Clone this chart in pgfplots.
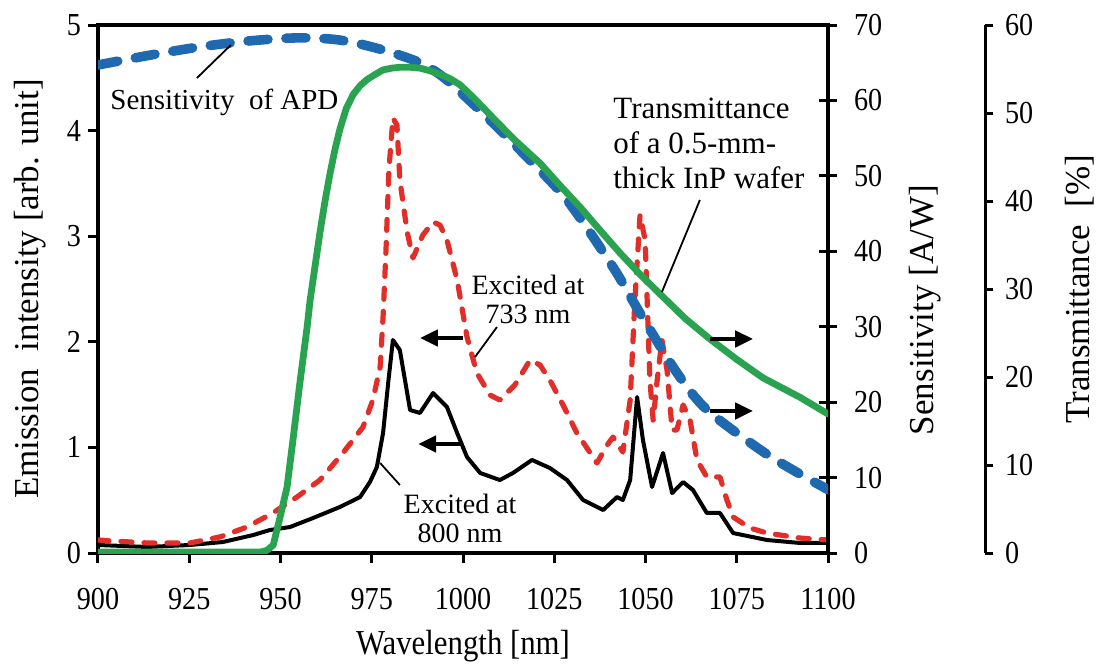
\documentclass[border=0pt]{standalone}
\usepackage{fontspec}
\setmainfont{Liberation Serif}
\newfontfamily\narrow{Liberation Serif}[FakeStretch=0.88]
\usepackage{pgfplots}
\pgfplotsset{compat=1.18}
\usetikzlibrary{arrows.meta}
\definecolor{apdblue}{RGB}{31,105,176}
\definecolor{exred}{RGB}{226,46,40}
\definecolor{trgreen}{RGB}{42,163,80}
\pgfplotsset{
  base/.style={width=365pt,height=264pt,scale only axis,xmin=900,xmax=1100,
    /pgf/number format/assume math mode=true,
    /pgf/number format/1000 sep={},
    tick label style={font=\narrow\fontsize{16}{16}\selectfont},
    label style={font=\fontsize{17.5}{17.5}\selectfont},
    major tick length=5pt,
    every tick/.style={black,line width=1.5pt},
    axis line style={line width=1.9pt}},
}
\begin{document}
\begin{tikzpicture}
% ---------- main axis: emission ----------
\begin{axis}[base, ymin=0, ymax=5,
  xtick={900,925,...,1100}, ytick={0,1,...,5},
  xtick pos=bottom, ytick pos=left, tick align=outside,
  xlabel={\narrow Wavelength [nm]}, ylabel={Emission\ \ intensity [arb. unit]},
  xlabel style={at={(axis description cs:0.5,-0.176)},anchor=center},
  ylabel style={at={(axis description cs:-0.093,0.5)},anchor=center},
  xticklabel style={yshift=-9pt}]
\addplot[black, line width=2pt, line join=round] coordinates {
(900,0.076)(913.4,0.057)(925.2,0.076)(934.2,0.104)(942.5,0.170)(947.1,0.218)
(952.6,0.246)(958.9,0.331)(966.3,0.436)(971.8,0.530)(974.5,0.672)(976.4,0.814)
(978.1,1.136)(979.5,1.610)(980.8,2.017)(982.7,1.922)(985.5,1.354)(988.2,1.326)
(991.8,1.515)(995.6,1.383)(998.4,1.136)(1001.1,0.909)(1004.7,0.758)(1010.1,0.691)
(1013.7,0.758)(1018.9,0.881)(1023.8,0.805)(1028.5,0.691)(1032.9,0.502)(1038.4,0.407)
(1042.2,0.530)(1043.8,0.502)(1045.8,0.691)(1047.7,1.477)(1049.3,1.070)(1051.8,0.625)
(1054.8,0.947)(1057.3,0.568)(1060.3,0.672)(1063.0,0.597)(1066.8,0.379)(1070.4,0.379)
(1074.0,0.189)(1083.3,0.123)(1092.3,0.095)(1100,0.095)};
\addplot[exred, line width=2.6pt, dash pattern=on 5.5pt off 6pt, line cap=round, line join=round] coordinates {
(900,0.123)(913.4,0.095)(925.2,0.095)(933.4,0.152)(940.8,0.246)(947.9,0.379)
(954.5,0.530)(960.8,0.691)(967.1,0.947)(972.6,1.193)(975.3,1.449)(977.3,1.761)
(978.1,2.235)(978.9,2.869)(979.7,3.627)(980.8,4.119)(981.9,4.053)(982.7,3.532)
(984.7,3.040)(986.3,2.794)(989.0,3.011)(991.8,3.134)(993.7,3.106)(995.6,2.964)
(998.4,2.585)(1001.1,2.045)(1003.8,1.705)(1007.4,1.496)(1010.1,1.449)(1014.2,1.591)
(1018.4,1.828)(1021.1,1.780)(1023.8,1.638)(1027.4,1.402)(1031.2,1.136)(1036.7,0.852)
(1039.5,1.023)(1041.1,1.098)(1043.8,0.956)(1045.8,1.449)(1047.1,2.396)(1048.5,3.201)
(1049.9,2.964)(1051.2,1.638)(1052.1,1.259)(1053.2,1.638)(1054.5,2.017)(1055.9,1.733)
(1057.3,1.165)(1058.6,1.165)(1060.3,1.402)(1062.2,1.259)(1064.1,0.881)(1066.8,0.720)
(1070.4,0.720)(1072.3,0.502)(1074.0,0.341)(1078.6,0.237)(1083.3,0.189)(1092.3,0.142)
(1100,0.123)};
\end{axis}
% ---------- sensitivity axis ----------
\begin{axis}[base, ymin=0, ymax=70, hide x axis, axis y line*=right,
  ytick={0,10,...,70}, tick align=center, major tick length=9pt,
  yticklabel style={xshift=5pt},
  ylabel={Sensitivity [A/W]},
  ylabel style={at={(axis description cs:1.133,0.46)},anchor=center}]
\addplot[apdblue, line width=4.8pt, dash pattern=on 10pt off 9pt, line cap=round, smooth] coordinates {
(900,64.7)(914.2,66.0)(927.9,67.1)(941.6,67.9)(955.3,68.3)(966.3,68.0)(977.3,66.8)
(988.2,65.0)(995.6,62.7)(1007.4,57.4)(1017.5,52.5)(1028.5,46.8)(1041.1,37.9)
(1048.5,31.8)(1058.6,23.9)(1066.8,19.0)(1081.4,13.7)(1090.4,11.0)(1100,8.4)};
\end{axis}
% ---------- transmittance data ----------
\begin{axis}[base, ymin=0, ymax=60, hide axis]
\addplot[trgreen, line width=3.4pt, line join=round, line cap=round] coordinates {
(900,0.1)(927.9,0.1)(944.4,0.1)(946.3,0.3)(948.0,0.9)(949.9,4.1)(951.8,7.5)
(953.4,12.8)(955.3,19.3)(957.3,25.7)(958.1,28.7)(960.8,36.4)(962.2,40.0)(963.6,43.2)
(965.0,46.0)(966.3,48.2)(968.0,50.5)(969.9,52.1)(971.8,53.1)(973.7,53.8)(976.0,54.4)
(978.1,54.9)(980.5,55.1)(982.7,55.2)(985.5,55.2)(988.2,55.1)(991.0,54.8)(993.7,54.4)
(996.5,53.9)(999.2,53.2)(1003.0,51.7)(1007.4,49.8)(1014.0,47.0)(1021.1,44.3)
(1026.5,41.8)(1032.1,39.3)(1037.5,36.7)(1043.0,34.1)(1048.9,31.5)(1054.8,29.1)
(1061.0,26.6)(1067.7,24.3)(1075.0,22.0)(1082.2,19.9)(1092.3,17.7)(1100,15.8)};
\end{axis}
% ---------- transmittance scale ----------
\begin{axis}[base, at={(78.5pt,0pt)}, ymin=0, ymax=60, hide x axis, axis y line*=right,
  ytick={0,10,...,60}, tick align=outside, major tick length=4pt,
  yticklabel style={xshift=2.5pt},
  axis line style={line width=1.5pt},
  ylabel={Transmittance\ \ [\%]},
  ylabel style={at={(axis description cs:1.130,0.5)},anchor=center}]
\end{axis}
% ---------- annotations ----------
\begin{axis}[base, ymin=0, ymax=5, hide axis]
\node[anchor=west, inner sep=0pt, font=\fontsize{14.5}{14.5}\selectfont] at (903.3,4.27) {Sensitivity\ \ of APD};
\draw[line width=0.9pt] (927.1,4.498) -- (936.4,4.811);
\node[anchor=west, inner sep=0pt, align=left, font=\fontsize{15.5}{17.5}\selectfont] at (1041.1,3.88)
  {Transmittance\\of a 0.5-mm-\\thick InP wafer};
\draw[line width=0.9pt] (1064.9,3.343) -- (1054.5,2.472);
\node[align=center, inner sep=0pt, font=\fontsize{14}{14.5}\selectfont] at (1017.8,2.40) {Excited at\\733 nm};
\draw[line width=0.9pt] (1009.3,2.14) -- (1003.3,1.856);
\node[align=center, inner sep=0pt, font=\fontsize{14}{14.5}\selectfont] at (999.2,0.33) {Excited at\\800 nm};
\draw[line width=0.9pt] (982.7,0.644) -- (977.3,0.852);
\draw[line width=2.2pt, -{Triangle[length=9pt,width=8pt]}] (1000,2.036) -- (988.2,2.036);
\draw[line width=2.2pt, -{Triangle[length=9pt,width=8pt]}] (999.2,1.032) -- (987.7,1.032);
\draw[line width=2.2pt, -{Triangle[length=9pt,width=8pt]}] (1067.7,2.027) -- (1079.5,2.027);
\draw[line width=2.2pt, -{Triangle[length=9pt,width=8pt]}] (1067.7,1.345) -- (1079.5,1.345);
\end{axis}
\pgfresetboundingbox
\path[use as bounding box] (-49pt,-56.5pt) rectangle (502.5pt,276.5pt);
\end{tikzpicture}
\end{document}
